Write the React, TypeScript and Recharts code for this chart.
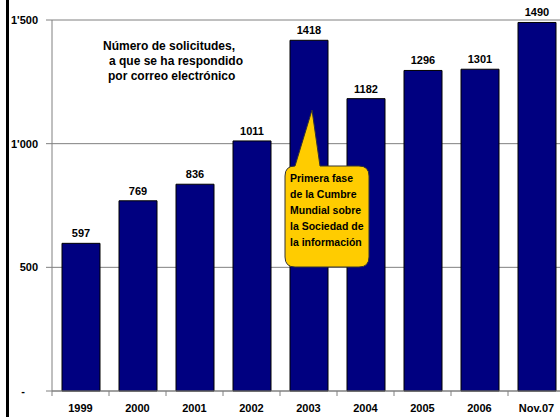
import React from "react";
import { BarChart, Bar, XAxis, YAxis, CartesianGrid, LabelList } from "recharts";

const years = ["1999", "2000", "2001", "2002", "2003", "2004", "2005", "2006", "Nov.07"];
const requests = [597, 769, 836, 1011, 1418, 1182, 1296, 1301, 1490];
const yTicks = [0, 500, 1000, 1500];
const yTickLabels = ["-", "500", "1'000", "1'500"];
const titleLines = ["Número de solicitudes,", "a que se ha respondido", "por correo electrónico"];
const calloutLines = ["Primera fase", "de la Cumbre", "Mundial sobre", "la Sociedad de", "la información"];

const data = years.map((y, i) => ({ year: y, value: requests[i] }));

const FONT = "'Liberation Sans', Arial, sans-serif";
const CHART_W = 570;
const CHART_H = 417;
const Y_W = 52;
const M_RIGHT = 5;
const BAND = (CHART_W - Y_W - M_RIGHT) / years.length;

const YTick = (props: any) => {
  const { x, y, payload } = props;
  const idx = yTicks.indexOf(payload.value);
  const label = yTickLabels[idx] ?? String(payload.value);
  const isZero = payload.value === 0;
  return (
    <text
      x={isZero ? x - 13 : x}
      y={y}
      dy="0.36em"
      textAnchor="end"
      fontFamily={FONT}
      fontSize={11}
      fontWeight="bold"
      fill="#000"
    >
      {label}
    </text>
  );
};

const XTick = (props: any) => {
  const { x, y, payload, index } = props;
  const half = BAND / 2;
  return (
    <g>
      {index === 0 && <line x1={x - half} y1={y} x2={x - half} y2={y + 5} stroke="#808080" />}
      <line x1={x + half} y1={y} x2={x + half} y2={y + 5} stroke="#808080" />
      <text x={x} y={y + 21} textAnchor="middle" fontFamily={FONT} fontSize={11} fontWeight="bold" fill="#000">
        {payload.value}
      </text>
    </g>
  );
};

export default function App() {
  return (
    <div style={{ position: "absolute", left: 0, top: 0, width: 560, height: 417, overflow: "hidden", background: "#fff" }}>
      <BarChart
        width={CHART_W}
        height={CHART_H}
        data={data}
        margin={{ top: 20, right: M_RIGHT, left: 0, bottom: 0 }}
      >
        <CartesianGrid vertical={false} stroke="#808080" strokeWidth={1} />
        <XAxis
          dataKey="year"
          height={26}
          tickSize={0}
          tickMargin={0}
          tickLine={false}
          axisLine={{ stroke: "#808080" }}
          tick={<XTick />}
          interval={0}
        />
        <YAxis
          width={Y_W}
          domain={[0, 1500]}
          ticks={yTicks}
          tickSize={6}
          tickMargin={8}
          axisLine={{ stroke: "#808080" }}
          tickLine={{ stroke: "#808080" }}
          tick={<YTick />}
        />
        <Bar dataKey="value" fill="#000080" stroke="#000" strokeWidth={1} barSize={38} isAnimationActive={false}>
          <LabelList
            dataKey="value"
            position="top"
            offset={6}
            style={{ fontFamily: FONT, fontSize: 11, fontWeight: "bold", fill: "#000" }}
          />
        </Bar>
      </BarChart>

      <div style={{ position: "absolute", left: 6, top: 0, width: 3, height: 417, background: "#000" }} />

      <svg width={560} height={417} style={{ position: "absolute", left: 0, top: 0, pointerEvents: "none" }}>
        <g fontFamily={FONT} fontSize={12} fontWeight="bold" fill="#000">
          <text x={103} y={50}>{titleLines[0]}</text>
          <text x={109} y={65}>{titleLines[1]}</text>
          <text x={108} y={80}>{titleLines[2]}</text>
        </g>
        <path
          d="M 295 166 L 312 110 L 320 166 L 359 166 Q 369 166 369 176 L 369 257 Q 369 267 359 267 L 295 267 Q 285 267 285 257 L 285 176 Q 285 166 295 166 Z"
          fill="#FFCC00"
          stroke="#333"
          strokeWidth={1}
        />
        <g fontFamily={FONT} fontSize={10.5} fontWeight="bold" fill="#000">
          {calloutLines.map((l, i) => (
            <text key={i} x={290} y={182 + i * 16}>{l}</text>
          ))}
        </g>
      </svg>
    </div>
  );
}
